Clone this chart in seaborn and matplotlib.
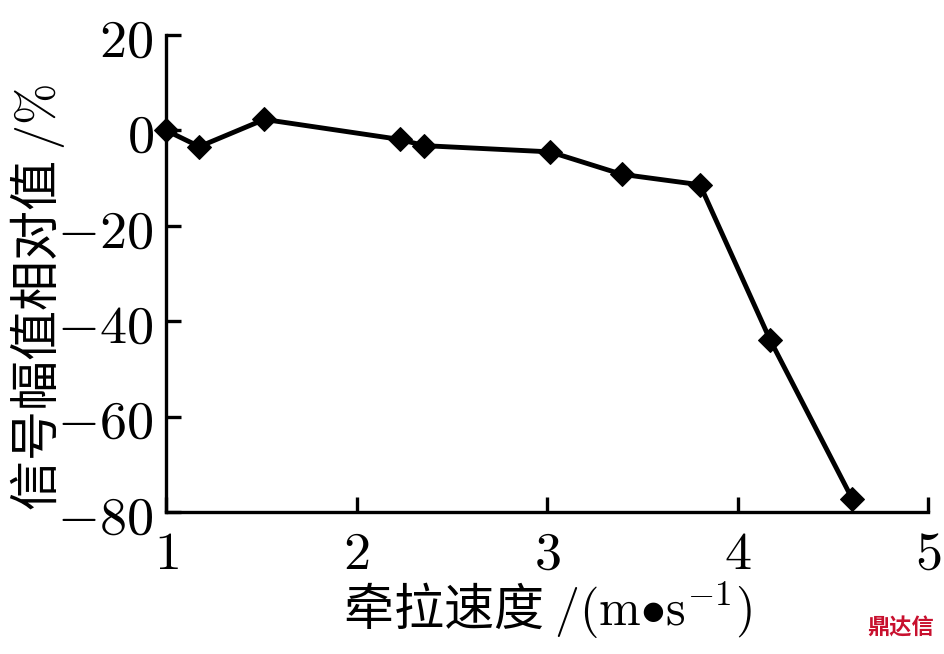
import numpy as np
import pandas as pd
import matplotlib
matplotlib.use('Agg')
import matplotlib.pyplot as plt
import seaborn as sns

# traction speed vs relative signal amplitude
speed = [1.0, 1.175, 1.516, 2.228, 2.356, 3.016, 3.392, 3.803, 4.171, 4.603]
rel_amp = [0.0, -3.4, 2.3, -1.9, -3.2, -4.5, -9.2, -11.4, -43.9, -77.3]
xticks = [1, 2, 3, 4, 5]
yticks = [-80, -60, -40, -20, 0, 20]

df = pd.DataFrame({'speed': speed, 'amp': rel_amp})

sns.set_style("ticks")
plt.rcParams['font.family'] = ['Noto Sans CJK SC', 'DejaVu Sans']
plt.rcParams['mathtext.fontset'] = 'cm'
plt.rcParams['axes.unicode_minus'] = True
for k in ['text.color', 'axes.labelcolor', 'xtick.color', 'ytick.color', 'axes.edgecolor']:
    plt.rcParams[k] = 'black'

fig = plt.figure(figsize=(9.45, 6.54), dpi=100)
ax = fig.add_axes([0.1757, 0.2171, 0.982 - 0.1757, 0.9465 - 0.2171])

sns.lineplot(data=df, x='speed', y='amp', ax=ax, color='black', linewidth=3.5,
             marker='D', markersize=12, markeredgecolor='black', clip_on=False)

ax.set_xlim(1, 5)
ax.set_ylim(-80, 20)
ax.set_xticks(xticks)
ax.set_yticks(yticks)
ax.set_xticklabels([f'${t}$' for t in xticks])
ax.set_yticklabels([f'${t}$' for t in yticks])
ax.tick_params(direction='in', length=11, width=2.4, labelsize=39, pad=10)
ax.tick_params(axis='y', pad=9)

sns.despine(ax=ax)
for s in ['left', 'bottom']:
    ax.spines[s].set_linewidth(2.4)

ax.set_xlabel('牵拉速度 $/(\\mathrm{m}{\\bullet}\\mathrm{s}^{-1})$', fontsize=36)
ax.set_ylabel('信号幅值相对值 $/\\%$', fontsize=36)
ax.xaxis.set_label_coords(0.5, -0.145)
ax.yaxis.set_label_coords(-0.13, 0.45)

fig.text(0.988, 0.04, '鼎达信', color='#c8102e', fontsize=16, fontweight='bold',
         ha='right', va='center')

fig.savefig('out.png', dpi=100)
